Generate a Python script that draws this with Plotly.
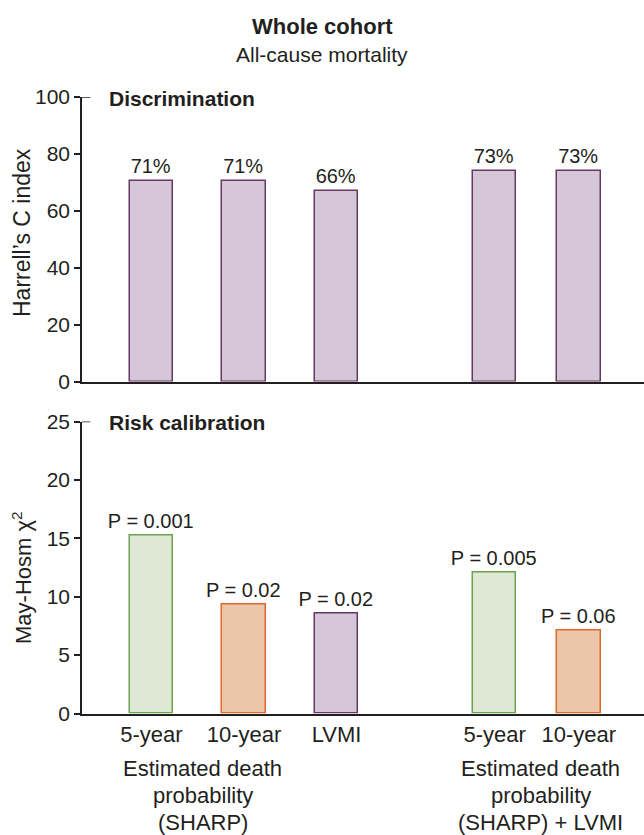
import plotly.graph_objects as go

# ---- data ----
categories = ["5-year", "10-year", "LVMI", "5-year", "10-year"]
x_positions = [1, 2, 3, 4.71, 5.62]
cindex = [70.5, 70.5, 67, 74, 74]
cindex_labels = ["71%", "71%", "66%", "73%", "73%"]
chi2 = [15.2, 9.3, 8.6, 12.1, 7.1]
p_labels = ["P = 0.001", "P = 0.02", "P = 0.02", "P = 0.005", "P = 0.06"]
bottom_kind = ["5y", "10y", "lvmi", "5y", "10y"]
group_labels = [["Estimated death", "probability", "(SHARP)"],
                ["Estimated death", "probability", "(SHARP) + LVMI"]]
group_members = [[0, 1], [3, 4]]
top_ticks = [0, 20, 40, 60, 80, 100]
bottom_ticks = [0, 5, 10, 15, 20, 25]

# ---- styles ----
FONT = "Liberation Sans, Arial, Helvetica, sans-serif"
TXT = "#231f20"
fills = {"5y": "#dfe8d5", "10y": "#ecc6a8", "lvmi": "#d5c7d7"}
edges = {"5y": "#6aa24e", "10y": "#dc6a2f", "lvmi": "#673866"}
W, H = 644, 835
L = 82
BARW = 0.47
XR = [0.249, 6.324]
GROUP_LINE_Y = [768, 795.5, 822.5]


def py(px):
    return 1 - px / H


def pxx(px):
    return (px - L) / (W - L)


fig = go.Figure()

fig.add_trace(go.Bar(
    x=x_positions, y=cindex, width=BARW,
    marker=dict(color=fills["lvmi"], line=dict(color=edges["lvmi"], width=1.5)),
    text=cindex_labels, textposition="outside", constraintext="none",
    textfont=dict(size=20, color=TXT, family=FONT), cliponaxis=False,
    xaxis="x", yaxis="y", showlegend=False, hoverinfo="skip"))

fig.add_trace(go.Bar(
    x=x_positions, y=chi2, width=BARW,
    marker=dict(color=[fills[k] for k in bottom_kind],
                line=dict(color=[edges[k] for k in bottom_kind], width=1.5)),
    text=p_labels, textposition="outside", constraintext="none",
    textfont=dict(size=20, color=TXT, family=FONT), cliponaxis=False,
    xaxis="x2", yaxis="y2", showlegend=False, hoverinfo="skip"))

axis_common = dict(showline=True, linecolor=TXT, linewidth=1.5, showgrid=False,
                   zeroline=False, automargin=False,
                   tickfont=dict(size=21, color=TXT, family=FONT))

fig.update_layout(
    width=W, height=H,
    margin=dict(l=L, r=0, t=0, b=0, pad=0, autoexpand=False),
    paper_bgcolor="white", plot_bgcolor="white",
    font=dict(family=FONT, color=TXT),
    showlegend=False,
    bargap=0,
    xaxis=dict(domain=[0, 1], anchor="y", range=XR, showticklabels=False, ticks="",
               **axis_common),
    yaxis=dict(domain=[py(381.5), py(97)], anchor="x", range=[0, 100],
               tickvals=top_ticks, ticks="outside", ticklen=6, tickwidth=1.5,
               tickcolor=TXT, **axis_common),
    xaxis2=dict(domain=[0, 1], anchor="y2", range=XR, tickvals=x_positions,
                ticktext=categories, ticks="",
                **{**axis_common, "tickfont": dict(size=22, color=TXT, family=FONT)}),
    yaxis2=dict(domain=[py(713.5), py(421.5)], anchor="x2", range=[0, 25],
                tickvals=bottom_ticks, ticks="outside", ticklen=6, tickwidth=1.5,
                tickcolor=TXT, **axis_common),
)

ann = []
ann.append(dict(text="<b>Whole cohort</b>", x=pxx(322), y=py(27), xref="paper", yref="paper",
                xanchor="center", yanchor="middle", showarrow=False,
                font=dict(size=22, color=TXT, family=FONT)))
ann.append(dict(text="All-cause mortality", x=pxx(322), y=py(55), xref="paper", yref="paper",
                xanchor="center", yanchor="middle", showarrow=False,
                font=dict(size=21, color=TXT, family=FONT)))
ann.append(dict(text="<b>Discrimination</b>", x=pxx(107), y=py(98),
                xref="paper", yref="paper", xanchor="left", yanchor="middle",
                showarrow=False, font=dict(size=21, color=TXT, family=FONT)))
ann.append(dict(text="<b>Risk calibration</b>", x=pxx(107), y=py(423),
                xref="paper", yref="paper", xanchor="left", yanchor="middle",
                showarrow=False, font=dict(size=21, color=TXT, family=FONT)))
ann.append(dict(text="Harrell’s C index", x=pxx(22), y=py(233),
                xref="paper", yref="paper", xanchor="center", yanchor="middle",
                textangle=-90, showarrow=False, font=dict(size=23, color=TXT, family=FONT)))
ann.append(dict(text="May-Hosm χ<sup>2</sup>", x=pxx(22), y=py(578),
                xref="paper", yref="paper", xanchor="center", yanchor="middle",
                textangle=-90, showarrow=False, font=dict(size=22, color=TXT, family=FONT)))
for lines, mem, shift in zip(group_labels, group_members, [5, 4]):
    xm = sum(x_positions[i] for i in mem) / len(mem)
    for line, ly in zip(lines, GROUP_LINE_Y):
        ann.append(dict(text=line, x=xm, xshift=shift, y=py(ly), xref="x2", yref="paper",
                        xanchor="center", yanchor="middle", showarrow=False,
                        font=dict(size=22, color=TXT, family=FONT)))
fig.update_layout(annotations=ann)

# inward cap ticks at the top of each y axis
for xa, ya, top in [("x", "y", top_ticks[-1]), ("x2", "y2", bottom_ticks[-1])]:
    fig.add_shape(type="line", xref=xa, yref=ya, x0=XR[0], x1=XR[0] + 0.09,
                  y0=top, y1=top, line=dict(color=TXT, width=1.5))

post = ("document.documentElement.style.margin='0';"
        "document.body.style.margin='0';"
        "document.documentElement.style.overflow='hidden';"
        "document.body.style.overflow='hidden';"
        "var d=document.getElementById('{plot_id}');"
        "d.style.position='fixed';d.style.top='0px';d.style.left='0px';")

fig.write_html("out.html", config={"displayModeBar": False}, post_script=post)
